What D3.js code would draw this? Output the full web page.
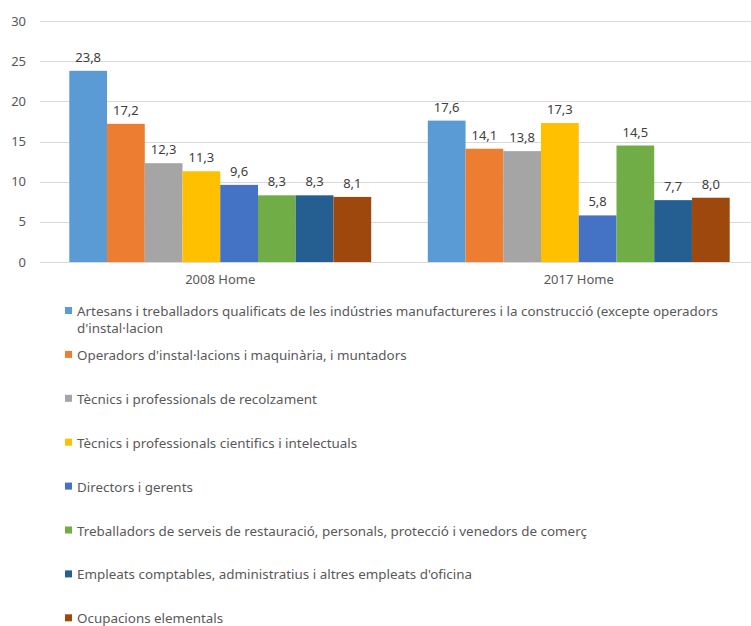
<!DOCTYPE html>
<html>
<head>
<meta charset="utf-8">
<script src="https://cdn.jsdelivr.net/npm/d3@7"></script>
<style>
  body { margin: 0; background: #fff; }
  text { font-family: "Noto Sans", "Open Sans", sans-serif; }
</style>
</head>
<body>
<div id="chart"></div>
<script>
const categories = ["2008 Home", "2017 Home"]
const seriesNames = [
  "Artesans i treballadors qualificats de les indústries manufactureres i la construcció (excepte operadors d'instal·lacion",
  "Operadors d'instal·lacions i maquinària, i muntadors",
  "Tècnics i professionals de recolzament",
  "Tècnics i professionals cientifics i intelectuals",
  "Directors i gerents",
  "Treballadors de serveis de restauració, personals, protecció i venedors de comerç",
  "Empleats comptables, administratius i altres empleats d'oficina",
  "Ocupacions elementals"
]
const values2008 = [23.8, 17.2, 12.3, 11.3, 9.6, 8.3, 8.3, 8.1]
const values2017 = [17.6, 14.1, 13.8, 17.3, 5.8, 14.5, 7.7, 8.0]
const yTicks = [0, 5, 10, 15, 20, 25, 30]

const colours = ["#5B9BD5", "#ED7D31", "#A5A5A5", "#FFC000", "#4472C4", "#70AD47", "#255E91", "#9E480E"]

const width = 751, height = 626
const plot = {left: 41, right: 758, top: 21, bottom: 262}

const svg = d3.select("#chart")
  .append("svg")
  .attr("width", width)
  .attr("height", height)

const data = categories.map((c, i) => ({
  category: c,
  values: (i === 0 ? values2008 : values2017).map((v, j) => ({series: j, value: v}))
}))

// Scales
const y = d3.scaleLinear().domain([0, 30]).range([plot.bottom, plot.top])
const x0 = d3.scaleBand().domain(categories).range([plot.left, plot.right]).padding(0)
const x1 = d3.scaleBand().domain(d3.range(seriesNames.length))
  .range([0, x0.bandwidth()]).paddingInner(0).paddingOuter(0.75)

// Gridlines + y labels
const yAxis = svg.append("g")
yAxis.selectAll("line")
  .data(yTicks)
  .enter()
  .append("line")
  .attr("x1", 40)
  .attr("x2", width)
  .attr("y1", d => Math.round(y(d)) + 0.5)
  .attr("y2", d => Math.round(y(d)) + 0.5)
  .attr("stroke", "#D9D9D9")
  .attr("stroke-width", 1)
yAxis.selectAll("text")
  .data(yTicks)
  .enter()
  .append("text")
  .attr("x", 26)
  .attr("y", d => y(d) + 4.5)
  .attr("text-anchor", "end")
  .attr("fill", "#595959")
  .style("font-size", "13px")
  .text(d => d)

// Bars
const groups = svg.selectAll("g.group")
  .data(data)
  .enter()
  .append("g")
  .attr("class", "group")
  .attr("transform", d => "translate(" + x0(d.category) + ",0)")

groups.selectAll("rect")
  .data(d => d.values)
  .enter()
  .append("rect")
  .attr("x", d => x1(d.series))
  .attr("width", x1.bandwidth())
  .attr("y", d => y(d.value))
  .attr("height", d => y(0) - y(d.value))
  .attr("fill", d => colours[d.series])

// Value labels
groups.selectAll("text")
  .data(d => d.values)
  .enter()
  .append("text")
  .attr("x", d => x1(d.series) + x1.bandwidth() / 2)
  .attr("y", d => y(d.value) - 9)
  .attr("text-anchor", "middle")
  .attr("fill", "#404040")
  .style("font-size", "13px")
  .text(d => d3.format(".1f")(d.value).replace(".", ","))

// Category labels
svg.selectAll("text.cat")
  .data(categories)
  .enter()
  .append("text")
  .attr("class", "cat")
  .attr("x", d => x0(d) + x0.bandwidth() / 2)
  .attr("y", 284)
  .attr("text-anchor", "middle")
  .attr("fill", "#595959")
  .style("font-size", "13px")
  .text(d => d)

// Legend
const legendX = 65, legendTop = 316, legendStep = 43.9, maxTextWidth = 672
const legend = svg.append("g")
seriesNames.forEach((name, i) => {
  const by = legendTop + i * legendStep
  legend.append("rect")
    .attr("x", legendX)
    .attr("y", by - 9)
    .attr("width", 7)
    .attr("height", 7)
    .attr("fill", colours[i])
  const t = legend.append("text")
    .attr("x", legendX + 12)
    .attr("y", by)
    .attr("fill", "#595959")
    .style("font-size", "13.4px")
  // wrap words
  const words = name.split(" ")
  let line = []
  let tspan = t.append("tspan").attr("x", legendX + 12).attr("dy", 0)
  words.forEach(w => {
    line.push(w)
    tspan.text(line.join(" "))
    if (tspan.node().getComputedTextLength() > maxTextWidth && line.length > 1) {
      line.pop()
      tspan.text(line.join(" "))
      line = [w]
      tspan = t.append("tspan").attr("x", legendX + 12).attr("dy", 16.5).text(w)
    }
  })
})
</script>
</body>
</html>
